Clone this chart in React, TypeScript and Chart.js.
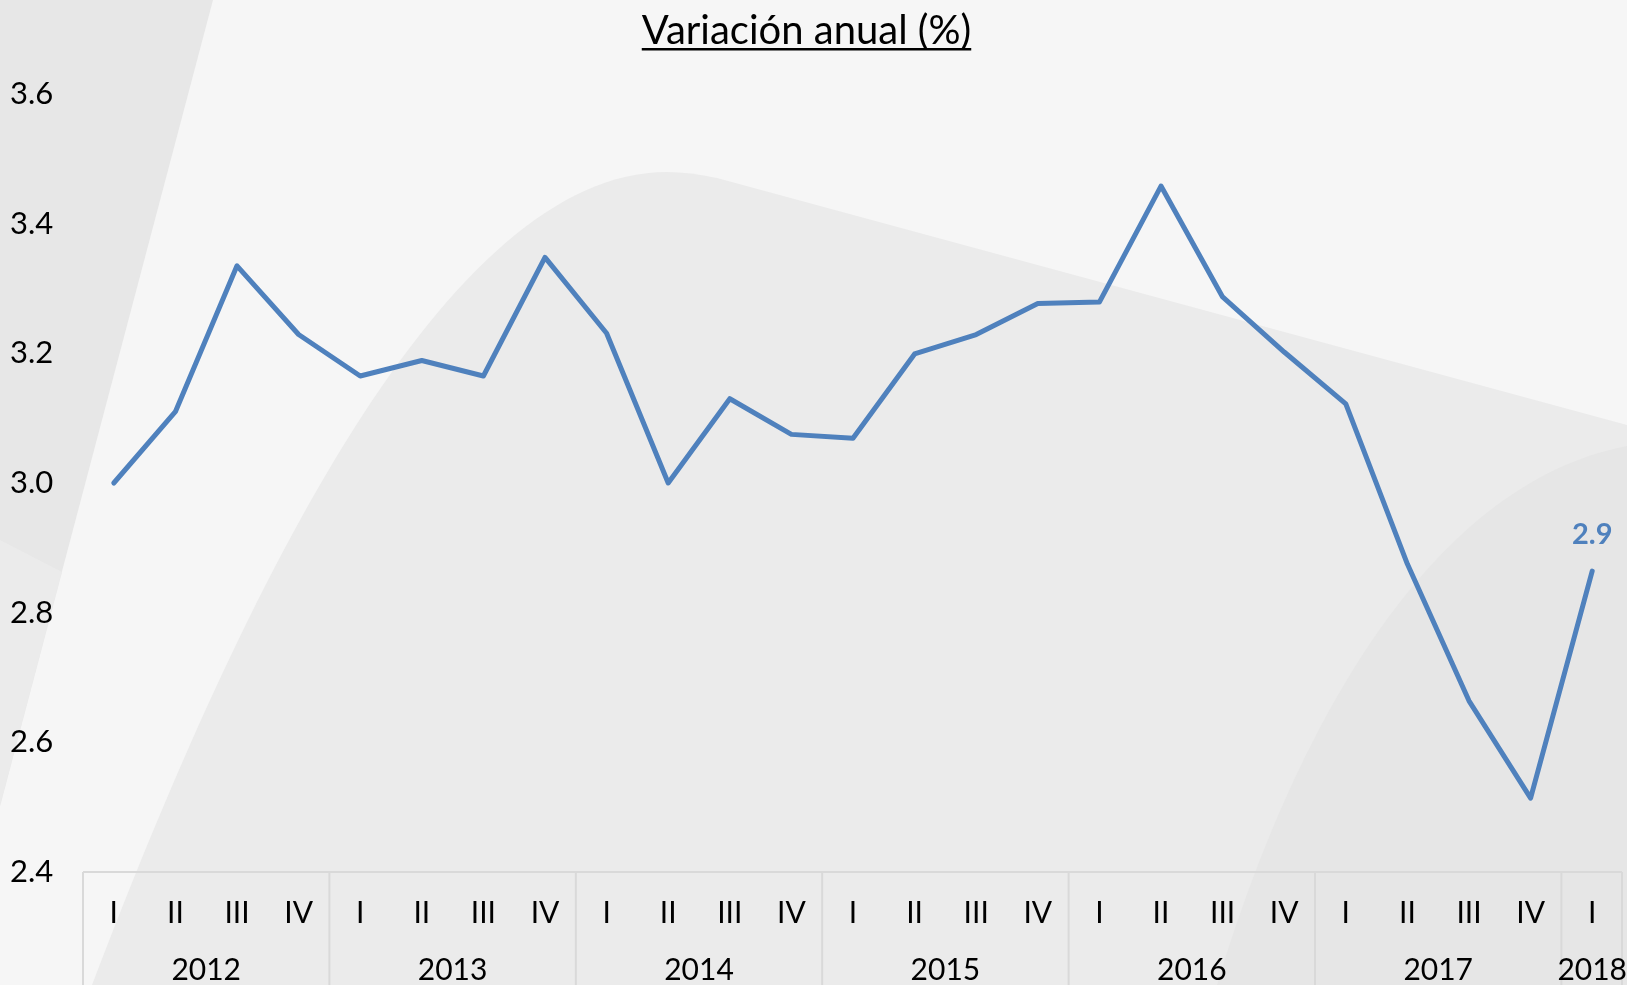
import React, { useEffect, useRef } from 'react';
import { Chart, registerables } from 'chart.js';

Chart.register(...registerables);

// ---- Data ----
const quarterLabels = [
  'I', 'II', 'III', 'IV',
  'I', 'II', 'III', 'IV',
  'I', 'II', 'III', 'IV',
  'I', 'II', 'III', 'IV',
  'I', 'II', 'III', 'IV',
  'I', 'II', 'III', 'IV',
  'I',
];
const years = ['2012', '2013', '2014', '2015', '2016', '2017', '2018'];
const quartersPerYear = [4, 4, 4, 4, 4, 4, 1];
const annualGrowth = [
  3.0, 3.11, 3.335, 3.229,
  3.165, 3.189, 3.165, 3.348,
  3.231, 3.0, 3.13, 3.075,
  3.069, 3.199, 3.229, 3.277,
  3.279, 3.458, 3.287, 3.202,
  3.122, 2.875, 2.664, 2.514,
  2.864,
];
const yMin = 2.4;
const yMax = 3.6;
const yStep = 0.2;
const chartTitle = 'Variación anual (%)';

const FONT = 'Lato';
const LINE_COLOR = '#4f81bd';

const backgroundPlugin = {
  id: 'decoBackground',
  beforeDraw(chart: any) {
    const ctx: CanvasRenderingContext2D = chart.ctx;
    const w = chart.width;
    const h = chart.height;
    ctx.save();
    ctx.fillStyle = '#f6f6f6';
    ctx.fillRect(0, 0, w, h);

    // left diagonal band
    ctx.fillStyle = '#e7e7e7';
    ctx.beginPath();
    ctx.moveTo(0, 0);
    ctx.lineTo(213, 0);
    ctx.lineTo(0, 806);
    ctx.closePath();
    ctx.fill();
    ctx.fillStyle = '#ebebeb';
    ctx.beginPath();
    ctx.moveTo(0, 540);
    ctx.lineTo(62, 572);
    ctx.lineTo(0, 806);
    ctx.closePath();
    ctx.fill();

    // large curved shape
    ctx.fillStyle = '#ebebeb';
    ctx.beginPath();
    ctx.moveTo(92, h);
    ctx.bezierCurveTo(244, 585, 447, 172, 667, 172);
    ctx.quadraticCurveTo(690, 172, 717, 178);
    ctx.lineTo(w, 425);
    ctx.lineTo(w, h);
    ctx.closePath();
    ctx.fill();

    // bottom-right curved shape
    ctx.fillStyle = '#e6e6e6';
    ctx.beginPath();
    ctx.moveTo(1217, h);
    ctx.bezierCurveTo(1292, 735, 1427, 484, w, 446);
    ctx.lineTo(w, h);
    ctx.closePath();
    ctx.fill();
    ctx.restore();
  },
};

const titlePlugin = {
  id: 'underlinedTitle',
  afterDraw(chart: any) {
    const ctx: CanvasRenderingContext2D = chart.ctx;
    ctx.save();
    ctx.font = `40px ${FONT}`;
    ctx.fillStyle = '#000';
    ctx.textAlign = 'center';
    ctx.textBaseline = 'alphabetic';
    const cx = chart.width / 2 - 7;
    const baseline = 44;
    ctx.fillText(chartTitle, cx, baseline);
    const tw = ctx.measureText(chartTitle).width;
    ctx.fillRect(cx - tw / 2, baseline + 4, tw, 2.5);
    ctx.restore();
  },
};

const groupAxisPlugin = {
  id: 'groupAxis',
  beforeDatasetsDraw(chart: any) {
    const ctx: CanvasRenderingContext2D = chart.ctx;
    const x = chart.scales.x;
    const area = chart.chartArea;
    const half = (x.getPixelForValue(1) - x.getPixelForValue(0)) / 2;
    const bottom = chart.height;
    ctx.save();
    ctx.strokeStyle = '#d9d9d9';
    ctx.lineWidth = 2;
    ctx.beginPath();
    ctx.moveTo(area.left, area.bottom);
    ctx.lineTo(x.getPixelForValue(quarterLabels.length - 1) + half - 1, area.bottom);
    ctx.stroke();

    let idx = 0;
    ctx.font = `30px ${FONT}`;
    ctx.fillStyle = '#000';
    ctx.textAlign = 'center';
    ctx.textBaseline = 'middle';
    for (let g = 0; g < years.length; g++) {
      const start = idx;
      const end = idx + quartersPerYear[g] - 1;
      const left = x.getPixelForValue(start) - half;
      const right = x.getPixelForValue(end) + half - (g === years.length - 1 ? 1 : 0);
      ctx.beginPath();
      ctx.moveTo(left, area.bottom);
      ctx.lineTo(left, bottom);
      ctx.stroke();
      if (g === years.length - 1) {
        ctx.beginPath();
        ctx.moveTo(right, area.bottom);
        ctx.lineTo(right, bottom);
        ctx.stroke();
      }
      const cx = (x.getPixelForValue(start) + x.getPixelForValue(end)) / 2;
      ctx.fillText(years[g], cx, 970);
      idx = end + 1;
    }
    ctx.restore();
  },
};

const lastLabelPlugin = {
  id: 'lastLabel',
  afterDatasetsDraw(chart: any) {
    const meta = chart.getDatasetMeta(0);
    const n = annualGrowth.length;
    const pt = meta.data[n - 1];
    if (!pt) return;
    const ctx: CanvasRenderingContext2D = chart.ctx;
    ctx.save();
    ctx.font = `bold 29px ${FONT}`;
    ctx.fillStyle = LINE_COLOR;
    ctx.textAlign = 'center';
    ctx.textBaseline = 'middle';
    ctx.fillText(annualGrowth[n - 1].toFixed(1), pt.x, pt.y - 37);
    ctx.restore();
  },
};

export default function App() {
  const canvasRef = useRef<HTMLCanvasElement | null>(null);

  useEffect(() => {
    if (!canvasRef.current) return;
    const chart = new Chart(canvasRef.current, {
      type: 'line',
      data: {
        labels: quarterLabels,
        datasets: [
          {
            data: annualGrowth,
            borderColor: LINE_COLOR,
            borderWidth: 5,
            pointRadius: 0,
            tension: 0,
            fill: false,
            borderJoinStyle: 'round',
            borderCapStyle: 'round',
          },
        ],
      },
      options: {
        animation: false,
        responsive: true,
        maintainAspectRatio: false,
        layout: { padding: { top: 94, left: 10, right: 4, bottom: 0 } },
        plugins: {
          legend: { display: false },
          tooltip: { enabled: false },
          title: { display: false },
        },
        scales: {
          x: {
            type: 'category',
            offset: true,
            grid: { display: false, drawTicks: false },
            border: { display: false },
            ticks: {
              font: { family: FONT, size: 30 },
              color: '#000',
              padding: 23,
              maxRotation: 0,
              autoSkip: false,
            },
            afterFit: (s: any) => {
              s.height = 113;
            },
          },
          y: {
            min: yMin,
            max: yMax,
            grid: { display: false, drawTicks: false },
            border: { display: false },
            ticks: {
              stepSize: yStep,
              font: { family: FONT, size: 31 },
              color: '#000',
              crossAlign: 'far',
              padding: 0,
              callback: (v: any) => Number(v).toFixed(1),
            },
            afterFit: (s: any) => {
              s.width = 73;
            },
          },
        },
      },
      plugins: [backgroundPlugin, groupAxisPlugin, lastLabelPlugin, titlePlugin],
    } as any);
    return () => chart.destroy();
  }, []);

  return (
    <div style={{ position: 'fixed', left: 0, top: 0, width: 1627, height: 985 }}>
      <canvas ref={canvasRef} />
    </div>
  );
}
